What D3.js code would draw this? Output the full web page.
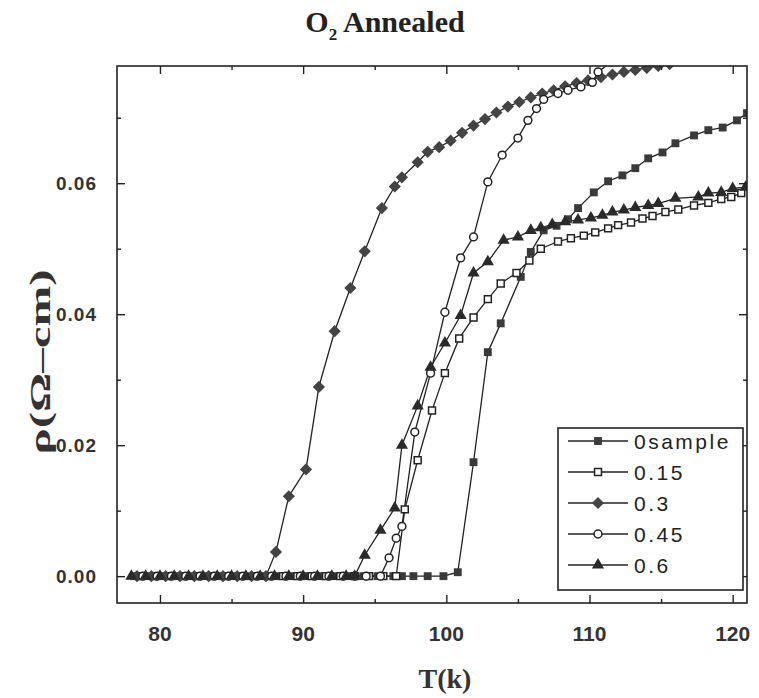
<!DOCTYPE html>
<html>
<head>
<meta charset="utf-8">
<script src="https://cdn.jsdelivr.net/npm/d3@7"></script>
<style>
  html, body { margin: 0; padding: 0; background: #fff; }
  svg { display: block; }
</style>
</head>
<body>
<svg id="chart" width="759" height="698"></svg>
<script>
// ---------------- DATA ----------------
const seriesNames = ["0sample", "0.15", "0.3", "0.45", "0.6"];

const t_0sample = [78.2, 79.2, 80.2, 81.2, 82.2, 83.2, 84.2, 85.2, 86.2, 87.2, 88.2, 89.2, 90.2, 91.2, 92.2, 93.2, 94.2, 95.2, 96.3, 96.9, 97.7, 98.7, 99.8, 100.8, 101.9, 102.9, 103.8, 105.2, 105.9, 106.8, 107.7, 108.5, 109.2, 110.3, 111.3, 112.3, 113.2, 114.1, 115.1, 116.0, 117.3, 118.3, 119.3, 120.3, 121.0];
const r_0sample = [0, 0, 0, 0, 0, 0, 0, 0, 0, 0, 0, 0, 0, 0, 0, 0, 0, 0, 0, 0, 0, 0, 0, 0.0006, 0.0174, 0.0342, 0.0386, 0.0457, 0.0495, 0.0528, 0.0535, 0.0545, 0.0562, 0.0586, 0.0603, 0.0612, 0.0623, 0.0638, 0.0647, 0.0661, 0.0673, 0.0681, 0.0685, 0.0696, 0.0707];

const t_015 = [78.6, 79.6, 80.6, 81.6, 82.6, 83.6, 84.6, 85.6, 86.6, 87.6, 88.6, 89.6, 90.6, 91.6, 92.6, 93.6, 94.6, 95.6, 96.5, 97.1, 98.0, 99.0, 99.9, 100.9, 101.9, 102.9, 103.8, 104.9, 105.8, 106.6, 107.8, 108.7, 109.6, 110.4, 111.3, 112.0, 112.9, 113.7, 114.4, 115.3, 116.2, 117.3, 118.3, 119.2, 119.9, 120.6];
const r_015 = [0, 0, 0, 0, 0, 0, 0, 0, 0, 0, 0, 0, 0, 0, 0, 0, 0, 0, 0, 0.0102, 0.0177, 0.0253, 0.0310, 0.0363, 0.0395, 0.0423, 0.0447, 0.0463, 0.0482, 0.0500, 0.0511, 0.0516, 0.0520, 0.0525, 0.0531, 0.0536, 0.0540, 0.0546, 0.0550, 0.0556, 0.0560, 0.0566, 0.0570, 0.0576, 0.0579, 0.0585];

const t_03 = [78.4, 79.4, 80.4, 81.4, 82.4, 83.4, 84.4, 85.4, 86.4, 87.4, 88.1, 89.0, 90.2, 91.1, 92.2, 93.3, 94.3, 95.5, 96.4, 96.9, 98.0, 98.7, 99.5, 100.3, 101.1, 101.9, 102.7, 103.5, 104.3, 105.1, 105.9, 106.7, 107.5, 108.3, 109.1, 109.9, 110.8, 111.6, 112.4, 113.2, 114.0, 114.8, 115.6];
const r_03 = [0, 0, 0, 0, 0, 0, 0, 0, 0, 0, 0.0037, 0.0122, 0.0163, 0.0289, 0.0374, 0.0440, 0.0496, 0.0562, 0.0595, 0.0609, 0.0632, 0.0648, 0.0655, 0.0665, 0.0677, 0.0688, 0.0698, 0.0708, 0.0717, 0.0724, 0.0731, 0.0737, 0.0742, 0.0748, 0.0753, 0.0757, 0.0762, 0.0766, 0.0770, 0.0773, 0.0776, 0.0779, 0.0782];

const t_045 = [78.8, 79.8, 80.8, 81.8, 82.8, 83.8, 84.8, 85.8, 86.8, 87.8, 88.8, 89.8, 90.8, 91.8, 92.8, 93.6, 94.4, 95.4, 96.0, 96.5, 96.9, 97.8, 98.9, 99.9, 101.0, 101.9, 102.9, 103.9, 105.0, 105.7, 106.3, 106.8, 107.8, 108.5, 109.4, 110.2, 110.6, 111.5];
const r_045 = [0, 0, 0, 0, 0, 0, 0, 0, 0, 0, 0, 0, 0, 0, 0, 0, 0, 0, 0.0028, 0.0058, 0.0076, 0.0220, 0.0310, 0.0403, 0.0486, 0.0518, 0.0602, 0.0643, 0.0669, 0.0696, 0.0714, 0.0728, 0.0737, 0.0742, 0.0747, 0.0754, 0.0770, 0.0785];

const t_06 = [78.0, 79.0, 80.0, 81.0, 82.0, 83.0, 84.0, 85.0, 86.0, 87.0, 88.0, 89.0, 90.0, 91.0, 92.0, 93.0, 93.6, 94.3, 95.4, 96.4, 96.9, 98.0, 98.9, 99.9, 101.0, 101.9, 102.9, 104.0, 105.0, 105.9, 106.6, 107.4, 108.3, 109.2, 110.1, 110.9, 111.6, 112.4, 113.2, 114.1, 114.8, 116.0, 117.6, 118.3, 119.2, 120.0, 120.9];
const r_06 = [0, 0, 0, 0, 0, 0, 0, 0, 0, 0, 0, 0, 0, 0, 0, 0, 0, 0.0032, 0.0070, 0.0104, 0.0200, 0.0260, 0.0319, 0.0356, 0.0398, 0.0463, 0.0480, 0.0513, 0.0518, 0.0528, 0.0532, 0.0537, 0.0541, 0.0544, 0.0547, 0.0551, 0.0556, 0.0559, 0.0563, 0.0566, 0.0569, 0.0577, 0.0579, 0.0585, 0.0586, 0.0592, 0.0594];

const xTickValues = [80, 90, 100, 110, 120];
const yTickValues = [0.00, 0.02, 0.04, 0.06];
const xTickLabels = ["80", "90", "100", "110", "120"];
const yTickLabels = ["0.00", "0.02", "0.04", "0.06"];

// ---------------- CHART ----------------
const svg = d3.select("#chart");
const L = 117, R = 747, T = 66, B = 603;
const x = d3.scaleLinear().domain([77, 121]).range([L, R]);
const y = d3.scaleLinear().domain([-0.0041, 0.0779]).range([B, T]);
const ink = "#222";

const series = [
  { name: seriesNames[0], t: t_0sample, r: r_0sample, sym: d3.symbolSquare, size: 62, fill: "#3a3a3a", open: false },
  { name: seriesNames[1], t: t_015, r: r_015, sym: d3.symbolSquare, size: 48, fill: "#fff", open: true },
  { name: seriesNames[2], t: t_03, r: r_03, sym: d3.symbolDiamond2, size: 95, fill: "#444", open: false },
  { name: seriesNames[3], t: t_045, r: r_045, sym: d3.symbolCircle, size: 48, fill: "#fff", open: true },
  { name: seriesNames[4], t: t_06, r: r_06, sym: d3.symbolTriangle, size: 64, fill: "#2a2a2a", open: false }
];

svg.append("defs").append("clipPath").attr("id", "plotclip")
  .append("rect").attr("x", L).attr("y", T).attr("width", R - L).attr("height", B - T);

const plot = svg.append("g").attr("clip-path", "url(#plotclip)");
const line = d3.line().x(d => x(d[0])).y(d => y(d[1]));

series.forEach(s => {
  const pts = s.t.map((tv, i) => [tv, s.r[i]]);
  plot.append("path").datum(pts)
    .attr("d", line).attr("fill", "none").attr("stroke", ink).attr("stroke-width", 1.3);
});
series.forEach(s => {
  const pts = s.t.map((tv, i) => [tv, s.r[i]]);
  plot.selectAll(null).data(pts).enter().append("path")
    .attr("d", d3.symbol().type(s.sym).size(s.size))
    .attr("transform", d => `translate(${x(d[0])},${y(d[1])})`)
    .attr("fill", s.fill)
    .attr("stroke", s.open ? ink : "none")
    .attr("stroke-width", s.open ? 1.5 : 0);
});

// axes (ticks inward, mirrored)
const xMinor = [85, 95, 105, 115];
const yMinor = [0.01, 0.03, 0.05, 0.07];
const axB = svg.append("g").attr("transform", `translate(0,${B})`)
  .call(d3.axisTop(x).tickValues(xTickValues).tickSize(8).tickFormat(""));
const axBm = svg.append("g").attr("transform", `translate(0,${B})`)
  .call(d3.axisTop(x).tickValues(xMinor).tickSize(4).tickFormat(""));
const axT = svg.append("g").attr("transform", `translate(0,${T})`)
  .call(d3.axisBottom(x).tickValues(xTickValues).tickSize(8).tickFormat(""));
const axTm = svg.append("g").attr("transform", `translate(0,${T})`)
  .call(d3.axisBottom(x).tickValues(xMinor).tickSize(4).tickFormat(""));
const axL = svg.append("g").attr("transform", `translate(${L},0)`)
  .call(d3.axisRight(y).tickValues(yTickValues).tickSize(8).tickFormat(""));
const axLm = svg.append("g").attr("transform", `translate(${L},0)`)
  .call(d3.axisRight(y).tickValues(yMinor).tickSize(4).tickFormat(""));
const axR = svg.append("g").attr("transform", `translate(${R},0)`)
  .call(d3.axisLeft(y).tickValues(yTickValues).tickSize(8).tickFormat(""));
const axRm = svg.append("g").attr("transform", `translate(${R},0)`)
  .call(d3.axisLeft(y).tickValues(yMinor).tickSize(4).tickFormat(""));
[axB, axBm, axT, axTm, axL, axLm, axR, axRm].forEach(a => {
  a.select(".domain").remove();
  a.selectAll("line").attr("stroke", ink).attr("stroke-width", 1.4);
});

svg.append("rect").attr("x", L).attr("y", T).attr("width", R - L).attr("height", B - T)
  .attr("fill", "none").attr("stroke", ink).attr("stroke-width", 1.6);

// tick labels
svg.append("g").selectAll("text").data(xTickValues).enter().append("text")
  .attr("x", d => x(d)).attr("y", 641)
  .attr("text-anchor", "middle")
  .attr("font-family", "'Liberation Sans Narrow', 'Liberation Sans', Arial, sans-serif")
  .attr("font-weight", "bold").attr("font-size", 21).attr("fill", "#333")
  .text((d, i) => xTickLabels[i]);

svg.append("g").selectAll("text").data(yTickValues).enter().append("text")
  .attr("x", 97).attr("y", d => y(d)).attr("dy", "0.36em")
  .attr("text-anchor", "end")
  .attr("font-family", "'Liberation Sans Narrow', 'Liberation Sans', Arial, sans-serif")
  .attr("font-weight", "bold").attr("font-size", 19).attr("letter-spacing", 1).attr("fill", "#333")
  .text((d, i) => yTickLabels[i]);

// titles
const title = svg.append("text").attr("x", 385).attr("y", 32).attr("text-anchor", "middle")
  .attr("font-family", "'Liberation Serif', 'Times New Roman', serif")
  .attr("font-weight", "bold").attr("font-size", 30).attr("fill", "#222");
title.append("tspan").text("O");
title.append("tspan").attr("font-size", 17).attr("dy", 8).text("2");
title.append("tspan").attr("dy", -8).text(" Annealed");

svg.append("text").attr("x", 445).attr("y", 688).attr("text-anchor", "middle")
  .attr("font-family", "'Liberation Serif', 'Times New Roman', serif")
  .attr("font-weight", "bold").attr("font-size", 28).attr("fill", "#333")
  .text("T(k)");

svg.append("text").attr("transform", "translate(50,362) rotate(-90)")
  .attr("text-anchor", "middle")
  .attr("font-family", "'Liberation Serif', 'Times New Roman', serif")
  .attr("font-weight", "bold").attr("font-size", 30).attr("fill", "#333")
  .attr("textLength", 185).attr("lengthAdjust", "spacingAndGlyphs")
  .text("ρ(Ω–cm)");

// legend
const lg = svg.append("g");
lg.append("rect").attr("x", 558).attr("y", 428).attr("width", 185).attr("height", 162)
  .attr("fill", "#fff").attr("stroke", ink).attr("stroke-width", 1.6);
series.forEach((s, i) => {
  const yy = 441 + i * 31;
  lg.append("line").attr("x1", 568).attr("x2", 628).attr("y1", yy).attr("y2", yy)
    .attr("stroke", ink).attr("stroke-width", 1.4);
  lg.append("path").attr("d", d3.symbol().type(s.sym).size(s.size))
    .attr("transform", `translate(598,${yy})`)
    .attr("fill", s.fill).attr("stroke", s.open ? ink : "none").attr("stroke-width", s.open ? 1.5 : 0);
  lg.append("text").attr("x", 634).attr("y", yy).attr("dy", "0.36em")
    .attr("font-family", "'Liberation Sans Narrow', 'Liberation Sans', Arial, sans-serif")
    .attr("font-size", 21).attr("letter-spacing", 2.5).attr("fill", "#222")
    .text(s.name);
});
</script>
</body>
</html>
